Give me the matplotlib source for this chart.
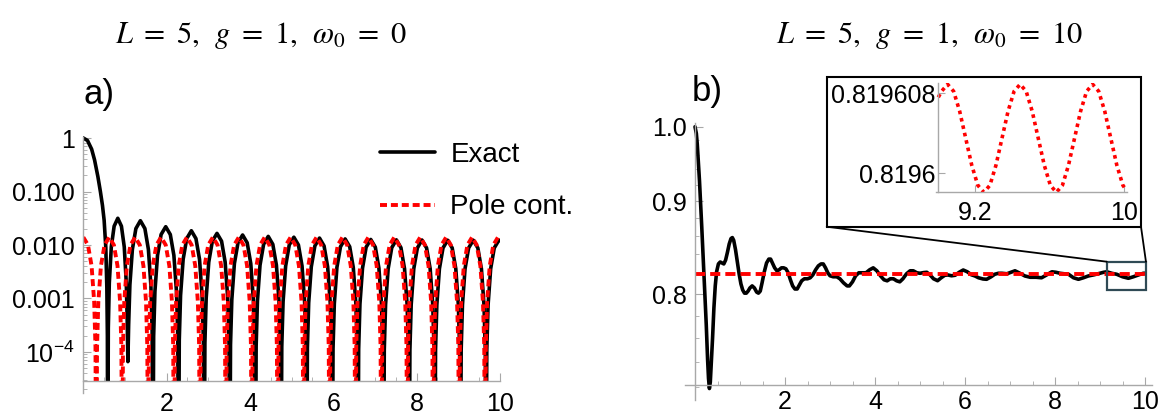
import numpy as np
import matplotlib
matplotlib.use('Agg')
import matplotlib.pyplot as plt
from matplotlib.patches import Rectangle, ConnectionPatch
from matplotlib.lines import Line2D
from matplotlib.ticker import FixedLocator, FixedFormatter, LogLocator, NullFormatter

plt.rcParams['font.family'] = 'Liberation Sans'

# ---- panel a) data (log scale) ----
exact_a_t = [0.000, 0.100, 0.200, 0.270, 0.350, 0.410, 0.460, 0.500, 0.540, 0.565, 0.578, 0.585,
             0.600, 0.624, 0.672, 0.740, 0.828, 0.915, 0.983, 1.031, 1.055, 1.070,
             1.088, 1.118, 1.178, 1.262, 1.370, 1.478, 1.562, 1.622, 1.652, 1.670,
             1.688, 1.719, 1.781, 1.867, 1.978, 2.088, 2.174, 2.236, 2.267, 2.285,
             2.303, 2.334, 2.396, 2.482, 2.593, 2.703, 2.789, 2.851, 2.882, 2.900,
             2.918, 2.949, 3.011, 3.097, 3.208, 3.318, 3.404, 3.466, 3.497, 3.515,
             3.533, 3.564, 3.626, 3.712, 3.823, 3.933, 4.019, 4.081, 4.112, 4.130,
             4.148, 4.179, 4.241, 4.327, 4.438, 4.548, 4.634, 4.696, 4.727, 4.745,
             4.763, 4.794, 4.856, 4.942, 5.053, 5.163, 5.249, 5.311, 5.342, 5.360,
             5.378, 5.409, 5.471, 5.557, 5.668, 5.778, 5.864, 5.926, 5.957, 5.975,
             5.993, 6.024, 6.086, 6.172, 6.283, 6.393, 6.479, 6.541, 6.572, 6.590,
             6.608, 6.639, 6.701, 6.787, 6.898, 7.008, 7.094, 7.156, 7.187, 7.205,
             7.223, 7.254, 7.316, 7.402, 7.513, 7.623, 7.709, 7.771, 7.802, 7.820,
             7.838, 7.869, 7.931, 8.017, 8.128, 8.238, 8.324, 8.386, 8.417, 8.435,
             8.453, 8.484, 8.546, 8.632, 8.743, 8.853, 8.939, 9.001, 9.032, 9.050,
             9.068, 9.099, 9.161, 9.247, 9.358, 9.468, 9.554, 9.616, 9.647, 9.665,
             9.683, 9.714, 9.776, 9.862, 9.973, 10.00]
exact_a_y = [1.0, 0.90, 0.62, 0.39, 0.19, 0.10, 0.055, 0.029, 0.009, 1.6e-3, 2e-4, 1e-7,
             2.8e-4, 1.95e-3, 9.2e-3, 0.0225, 0.0316, 0.0225, 9.2e-3, 2.0e-3, 3.5e-4, 6.6e-5,
             3.2e-4, 1.8e-3, 8.3e-3, 0.0203, 0.0285, 0.0203, 8.3e-3, 1.76e-3, 2.5e-4, 1e-7,
             1.96e-4, 1.36e-3, 6.4e-3, 0.0157, 0.0220, 0.0157, 6.4e-3, 1.36e-3, 1.96e-4, 1e-7,
             1.65e-4, 1.14e-3, 5.4e-3, 0.0132, 0.0185, 0.0132, 5.4e-3, 1.14e-3, 1.65e-4, 1e-7,
             1.47e-4, 1.02e-3, 4.8e-3, 0.0118, 0.0165, 0.0118, 4.8e-3, 1.02e-3, 1.47e-4, 1e-7,
             1.37e-4, 9.5e-4, 4.5e-3, 0.0110, 0.0154, 0.0110, 4.5e-3, 9.5e-4, 1.37e-4, 1e-7,
             1.29e-4, 9.0e-4, 4.2e-3, 0.0103, 0.0145, 0.0103, 4.2e-3, 9.0e-4, 1.29e-4, 1e-7,
             1.25e-4, 8.7e-4, 4.06e-3, 0.0100, 0.0140, 0.0100, 4.06e-3, 8.7e-4, 1.25e-4, 1e-7,
             1.20e-4, 8.3e-4, 3.9e-3, 9.6e-3, 0.0135, 9.6e-3, 3.9e-3, 8.3e-4, 1.20e-4, 1e-7,
             1.16e-4, 8.0e-4, 3.8e-3, 9.3e-3, 0.0130, 9.3e-3, 3.8e-3, 8.0e-4, 1.16e-4, 1e-7,
             1.13e-4, 7.9e-4, 3.7e-3, 9.1e-3, 0.0127, 9.1e-3, 3.7e-3, 7.9e-4, 1.13e-4, 1e-7,
             1.11e-4, 7.7e-4, 3.6e-3, 8.9e-3, 0.0125, 8.9e-3, 3.6e-3, 7.7e-4, 1.11e-4, 1e-7,
             1.10e-4, 7.7e-4, 3.6e-3, 8.8e-3, 0.0124, 8.8e-3, 3.6e-3, 7.7e-4, 1.10e-4, 1e-7,
             1.09e-4, 7.6e-4, 3.6e-3, 8.8e-3, 0.0123, 8.8e-3, 3.6e-3, 7.6e-4, 1.09e-4, 1e-7,
             1.09e-4, 7.6e-4, 3.6e-3, 8.8e-3, 0.0123, 8.8e-3, 3.6e-3, 7.6e-4, 1.09e-4, 1e-7,
             1.09e-4, 7.6e-4, 3.6e-3, 8.8e-3, 0.0123, 0.0122]

pole_a_t = [0.000, 0.112, 0.199, 0.261, 0.292, 0.311,
            0.330, 0.361, 0.423, 0.510, 0.622, 0.734, 0.821, 0.883, 0.914, 0.933,
            0.952, 0.983, 1.045, 1.132, 1.244, 1.356, 1.443, 1.505, 1.536, 1.555,
            1.574, 1.605, 1.667, 1.754, 1.866, 1.978, 2.065, 2.127, 2.158, 2.177,
            2.196, 2.227, 2.289, 2.376, 2.488, 2.600, 2.687, 2.749, 2.780, 2.799,
            2.818, 2.849, 2.911, 2.998, 3.110, 3.222, 3.309, 3.371, 3.402, 3.421,
            3.440, 3.471, 3.533, 3.620, 3.732, 3.844, 3.931, 3.993, 4.024, 4.043,
            4.062, 4.093, 4.155, 4.242, 4.354, 4.466, 4.553, 4.615, 4.646, 4.665,
            4.684, 4.715, 4.777, 4.864, 4.976, 5.088, 5.175, 5.237, 5.268, 5.287,
            5.306, 5.337, 5.399, 5.486, 5.598, 5.710, 5.797, 5.859, 5.890, 5.909,
            5.928, 5.959, 6.021, 6.108, 6.220, 6.332, 6.419, 6.481, 6.512, 6.531,
            6.550, 6.581, 6.643, 6.730, 6.842, 6.954, 7.041, 7.103, 7.134, 7.153,
            7.172, 7.203, 7.265, 7.352, 7.464, 7.576, 7.663, 7.725, 7.756, 7.775,
            7.794, 7.825, 7.887, 7.974, 8.086, 8.198, 8.285, 8.347, 8.378, 8.397,
            8.416, 8.447, 8.509, 8.596, 8.708, 8.820, 8.907, 8.969, 9.000, 9.019,
            9.038, 9.069, 9.131, 9.218, 9.330, 9.442, 9.529, 9.591, 9.622, 9.641,
            9.660, 9.691, 9.753, 9.840, 9.952, 10.00]
pole_a_y = [0.0140, 0.0100, 4.06e-3, 8.7e-4, 1.25e-4, 1e-7] + \
    [1.25e-4, 8.7e-4, 4.06e-3, 0.0100, 0.0140, 0.0100, 4.06e-3, 8.7e-4, 1.25e-4, 1e-7] * 15 + \
    [1.25e-4, 8.7e-4, 4.06e-3, 0.0100, 0.0140, 0.0138]

# ---- panel b) data ----
exact_b_t = [0.00, 0.03, 0.05, 0.10, 0.15, 0.20, 0.25, 0.28, 0.30, 0.32, 0.34, 0.36, 0.39, 0.42,
             0.45, 0.48, 0.52, 0.56, 0.60, 0.64, 0.68, 0.72, 0.76, 0.80, 0.83, 0.86, 0.90, 0.94,
             0.98, 1.02, 1.06, 1.10, 1.14, 1.18, 1.22, 1.27, 1.32, 1.37, 1.41, 1.45, 1.49, 1.54,
             1.59, 1.64, 1.68, 1.72, 1.77, 1.82, 1.87, 1.92, 1.97, 2.02, 2.07, 2.12, 2.17, 2.22,
             2.27, 2.32, 2.37, 2.43, 2.50, 2.56, 2.62, 2.68, 2.74, 2.80, 2.85, 2.90, 2.95, 3.00,
             3.07, 3.15, 3.22, 3.30, 3.38, 3.43, 3.50, 3.57, 3.64, 3.72, 3.80, 3.88, 3.96, 4.04,
             4.12, 4.20, 4.27, 4.34, 4.41, 4.48, 4.55, 4.62, 4.70, 4.78, 4.85, 4.93, 5.00, 5.08,
             5.15, 5.22, 5.30, 5.39, 5.47, 5.55, 5.62, 5.70, 5.78, 5.87, 5.96, 6.05, 6.14, 6.22,
             6.30, 6.40, 6.48, 6.58, 6.66, 6.74, 6.82, 6.93, 7.02, 7.11, 7.20, 7.33, 7.45, 7.58,
             7.70, 7.80, 7.93, 8.02, 8.11, 8.20, 8.30, 8.41, 8.52, 8.63, 8.74, 8.87, 9.00, 9.08,
             9.15, 9.26, 9.37, 9.50, 9.63, 9.74, 9.85, 9.96, 10.0]
exact_b_y = [1.000, 0.990, 0.975, 0.925, 0.870, 0.818, 0.772, 0.742, 0.727, 0.719, 0.724, 0.738,
             0.760, 0.787, 0.808, 0.822, 0.830, 0.832, 0.831, 0.830, 0.834, 0.842, 0.851, 0.857,
             0.858, 0.855, 0.845, 0.832, 0.820, 0.810, 0.804, 0.801, 0.801, 0.803, 0.806, 0.808,
             0.806, 0.802, 0.801, 0.803, 0.811, 0.822, 0.831, 0.835, 0.835, 0.831, 0.826, 0.823,
             0.824, 0.826, 0.826, 0.825, 0.821, 0.814, 0.808, 0.805, 0.805, 0.809, 0.813, 0.815,
             0.815, 0.816, 0.819, 0.824, 0.828, 0.830, 0.830, 0.826, 0.821, 0.818, 0.817, 0.817,
             0.815, 0.811, 0.808, 0.808, 0.812, 0.818, 0.821, 0.821, 0.821, 0.824, 0.826, 0.823,
             0.818, 0.814, 0.813, 0.815, 0.815, 0.813, 0.812, 0.815, 0.820, 0.823, 0.823, 0.821,
             0.8205, 0.8212, 0.8215, 0.819, 0.815, 0.8131, 0.816, 0.8185, 0.8188, 0.818, 0.8185,
             0.8215, 0.8238, 0.822, 0.819, 0.8178, 0.816, 0.8148, 0.8145, 0.817, 0.8195, 0.8205,
             0.8205, 0.820, 0.8215, 0.823, 0.821, 0.8178, 0.8165, 0.8165, 0.816, 0.8185, 0.822,
             0.8215, 0.8205, 0.820, 0.8195, 0.816, 0.8145, 0.816, 0.8178, 0.819, 0.8205, 0.8215,
             0.822, 0.8205, 0.8195, 0.817, 0.8155, 0.817, 0.8188, 0.8205, 0.8205]
pole_b_t = [0.0, 10.0]
pole_b_y = [0.8196, 0.8196]

inset_t = [9.000, 9.0175, 9.050, 9.0825, 9.115, 9.1475, 9.180, 9.2125, 9.245, 9.2775, 9.310,
           9.3425, 9.375, 9.4075, 9.440, 9.4725, 9.505, 9.5375, 9.570, 9.6025, 9.635, 9.6675,
           9.700, 9.7325, 9.765, 9.7975, 9.830, 9.8625, 9.895, 9.9275, 9.960, 9.9925, 10.0]
inset_y = [0.8196076, 0.8196082, 0.8196089, 0.8196082, 0.8196062, 0.8196035, 0.8196008,
           0.8195988, 0.8195981, 0.8195988, 0.8196008, 0.8196035, 0.8196062, 0.8196082,
           0.8196089, 0.8196082, 0.8196062, 0.8196035, 0.8196008, 0.8195988, 0.8195981,
           0.8195988, 0.8196008, 0.8196035, 0.8196062, 0.8196082, 0.8196089, 0.8196082,
           0.8196062, 0.8196035, 0.8196008, 0.8195988, 0.8195986]

W, H = 1164, 416
AXC = '#a8a8a8'


def box(x0, y0, x1, y1):
    # pixel box (origin top-left) -> figure fraction rect
    return [x0 / W, 1 - y1 / H, (x1 - x0) / W, (y1 - y0) / H]


fig = plt.figure(figsize=(W / 100, H / 100), dpi=100)

black_kw = dict(color='black', lw=2.6, solid_capstyle='round', solid_joinstyle='round')
red_kw = dict(color='#ff0000', lw=2.8, dashes=(1.8, 1.0), dash_capstyle='butt')

# ---------------- panel a ----------------
ax1 = fig.add_axes(box(83.3, 136.9, 500, 393))
ax1.set_yscale('log')
floor_a = 2.9e-5
l1, = ax1.plot(exact_a_t, exact_a_y, **black_kw)
l2, = ax1.plot(pole_a_t, pole_a_y, **red_kw)
clip = Rectangle((0, floor_a), 10, 10, transform=ax1.transData)
for ln in (l1, l2):
    ln.set_clip_path(clip)
ax1.set_xlim(0, 10)
ax1.set_ylim(1.71e-5, 1.05)

for s in ('top', 'right'):
    ax1.spines[s].set_visible(False)
ax1.spines['bottom'].set_position(('data', floor_a))
for s in ('left', 'bottom'):
    ax1.spines[s].set_color(AXC)
    ax1.spines[s].set_linewidth(1.0)

ax1.xaxis.set_major_locator(FixedLocator([2, 4, 6, 8, 10]))
ax1.xaxis.set_minor_locator(FixedLocator(np.arange(0.5, 10.01, 0.5)))
ax1.yaxis.set_major_locator(FixedLocator([1e-4, 1e-3, 1e-2, 1e-1, 1]))
ax1.yaxis.set_major_formatter(FixedFormatter([r'$\mathregular{10^{-4}}$', '0.001', '0.010', '0.100', '1']))
ax1.yaxis.set_minor_locator(LogLocator(base=10, subs=range(2, 10), numticks=20))
ax1.yaxis.set_minor_formatter(NullFormatter())
ax1.tick_params(which='both', direction='in', color=AXC, labelsize=18)
ax1.tick_params(which='major', length=6)
ax1.tick_params(which='minor', length=3)
ax1.tick_params(axis='x', pad=8)
ax1.tick_params(axis='y', pad=6)
ax1.patch.set_alpha(0)

leg = ax1.legend([Line2D([], [], **black_kw), Line2D([], [], **red_kw)], ['Exact', 'Pole cont.'],
                 loc='upper left', bbox_to_anchor=(380 / W, 1 - 142 / H), bbox_transform=fig.transFigure,
                 frameon=False, fontsize=20, handlelength=1.98, handletextpad=0.55,
                 labelspacing=0.95, borderpad=0, borderaxespad=0)

# ---------------- panel b ----------------
ax2 = fig.add_axes(box(685.1, 123.4, 1151.8, 400.2))


def recip(y):
    y = np.asarray(y, dtype=float)
    with np.errstate(divide='ignore', invalid='ignore'):
        return -1.0 / y


ax2.set_yscale('function', functions=(recip, recip))
ax2.plot(exact_b_t, exact_b_y, **black_kw)
ax2.plot(pole_b_t, pole_b_y, color='#ff0000', lw=2.8, dashes=(2.6, 1.3), dash_capstyle='butt')
ax2.set_xlim(-0.22, 10.15)
ax2.set_ylim(0.7101, 1.005)

for s in ('top', 'right'):
    ax2.spines[s].set_visible(False)
ax2.spines['left'].set_position(('data', 0))
ax2.spines['bottom'].set_position(('data', 0.7218))
for s in ('left', 'bottom'):
    ax2.spines[s].set_color(AXC)
    ax2.spines[s].set_linewidth(1.0)
ax2.xaxis.set_major_locator(FixedLocator([2, 4, 6, 8, 10]))
ax2.xaxis.set_minor_locator(FixedLocator(np.arange(0.5, 10.01, 0.5)))
ax2.yaxis.set_major_locator(FixedLocator([0.8, 0.9, 1.0]))
ax2.yaxis.set_major_formatter(FixedFormatter(['0.8', '0.9', '1.0']))
ax2.yaxis.set_minor_locator(FixedLocator([0.72, 0.74, 0.76, 0.78, 0.82, 0.84, 0.86, 0.88,
                                          0.92, 0.94, 0.96, 0.98]))
ax2.tick_params(which='both', direction='in', color=AXC, labelsize=18)
ax2.tick_params(which='major', length=6)
ax2.tick_params(which='minor', length=3)
ax2.tick_params(axis='x', pad=4)
ax2.tick_params(axis='y', pad=6)
ax2.patch.set_alpha(0)

# zoom marker and inset frame
ax2.add_patch(Rectangle((9.15, 0.8040), 0.87, 0.8323 - 0.8040, fill=False,
                        ec='#2f4a55', lw=1.6, zorder=5))
fig.add_artist(Rectangle((826.7 / W, 1 - 226.7 / H), (1141 - 826.7) / W, 150 / H,
                         transform=fig.transFigure, fill=False, ec='black', lw=1.5))
for xa, xb in ((826.7, 9.15), (1141, 10.02)):
    fig.add_artist(ConnectionPatch(xyA=(xa / W, 1 - 226.7 / H), coordsA='figure fraction',
                                   xyB=(xb, 0.8323), coordsB='data', axesB=ax2,
                                   color='black', lw=1.3))

axi = fig.add_axes(box(935.5, 83.3, 1126.7, 192.3))
axi.plot(inset_t, inset_y, color='#ff0000', lw=2.6, dashes=(1, 1.1), dash_capstyle='butt')
axi.set_xlim(8.985, 10.013)
axi.set_ylim(0.8195981, 0.819609)
for s in ('top', 'right'):
    axi.spines[s].set_visible(False)
axi.spines['left'].set_position(('data', 9.0))
for s in ('left', 'bottom'):
    axi.spines[s].set_color(AXC)
    axi.spines[s].set_linewidth(1.0)
axi.xaxis.set_major_locator(FixedLocator([9.2, 10]))
axi.xaxis.set_major_formatter(FixedFormatter(['9.2', '10']))
axi.yaxis.set_major_locator(FixedLocator([0.8196, 0.819608]))
axi.yaxis.set_major_formatter(FixedFormatter(['0.8196', '0.819608']))
axi.tick_params(which='both', direction='in', color=AXC, labelsize=18, length=5)
axi.tick_params(axis='x', pad=6)
axi.tick_params(axis='y', pad=2)
axi.patch.set_alpha(0)

# titles and panel labels
fig.text(261 / W, 1 - 43 / H, r'$L\ =\ 5,\ \,g\ =\ 1,\ \,\omega_0\ =\ 0$', ha='center', va='baseline',
         fontsize=22, math_fontfamily='stix')
fig.text(929 / W, 1 - 43 / H, r'$L\ =\ 5,\ \,g\ =\ 1,\ \,\omega_0\ =\ 10$', ha='center', va='baseline',
         fontsize=22, math_fontfamily='stix')
fig.text(84 / W, 1 - 104 / H, 'a)', fontsize=25, va='baseline')
fig.text(692 / W, 1 - 101 / H, 'b)', fontsize=25, va='baseline')

fig.savefig('out.png', dpi=100)
